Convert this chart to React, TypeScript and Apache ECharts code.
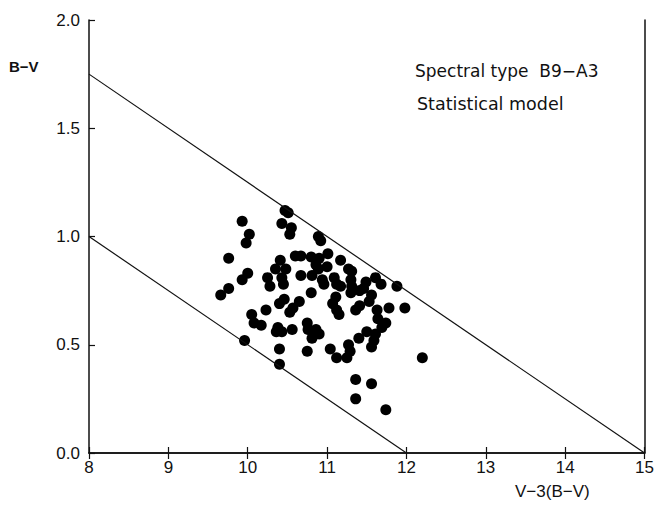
import React, { useEffect, useRef } from "react";
import * as echarts from "echarts";

// Star data: [V-3(B-V), B-V]
const starX: number[] = [
  10.47, 10.51, 9.93, 10.43, 10.55, 10.53, 10.02, 9.98, 10.89, 10.92,
  9.76, 10.6, 10.67, 10.8, 11.01, 11.17, 10.41, 10.35, 10.48, 10.43,
  10.45, 10.9, 10.86, 10.89, 11.0, 10.67, 10.81, 10.94, 10.96, 11.09,
  11.12, 11.17, 11.27, 11.31, 11.3, 11.31, 11.3, 11.49, 11.46, 11.41,
  11.61, 11.68, 11.88, 10.8, 10.0, 9.93, 10.25, 10.28, 9.76, 9.66,
  10.46, 10.4, 10.65, 10.57, 10.53, 10.23, 10.05, 11.56, 11.53, 11.41,
  11.36, 11.11, 11.07, 11.12, 11.15, 11.78, 11.98, 11.63, 11.64, 11.74,
  11.69, 10.75, 10.76, 10.86, 10.9, 10.81, 10.56, 10.38, 10.36, 10.43,
  10.08, 10.17, 9.96, 10.4, 10.75, 10.4, 11.5, 11.4, 11.61, 11.59,
  11.56, 11.27, 11.29, 11.04, 11.12, 11.25, 12.2, 11.36, 11.56, 11.36,
  11.74,
];
const starY: number[] = [
  1.12, 1.11, 1.07, 1.06, 1.04, 1.01, 1.01, 0.97, 1.0, 0.98,
  0.9, 0.91, 0.91, 0.905, 0.92, 0.89, 0.89, 0.85, 0.85, 0.81,
  0.78, 0.9, 0.87, 0.85, 0.86, 0.82, 0.82, 0.8, 0.78, 0.81,
  0.78, 0.77, 0.85, 0.84, 0.8, 0.77, 0.74, 0.79, 0.76, 0.75,
  0.81, 0.78, 0.77, 0.74, 0.83, 0.8, 0.81, 0.77, 0.76, 0.73,
  0.71, 0.69, 0.7, 0.67, 0.65, 0.66, 0.64, 0.73, 0.7, 0.68,
  0.66, 0.72, 0.69, 0.66, 0.64, 0.67, 0.67, 0.66, 0.62, 0.6,
  0.58, 0.6, 0.57, 0.57, 0.55, 0.53, 0.57, 0.58, 0.56, 0.56,
  0.6, 0.59, 0.52, 0.48, 0.47, 0.41, 0.56, 0.53, 0.55, 0.52,
  0.49, 0.5, 0.47, 0.48, 0.44, 0.44, 0.44, 0.34, 0.32, 0.25,
  0.2,
];

// Boundary lines (endpoints)
const upperLine: number[][] = [
  [8, 1.75],
  [15, 0],
];
const lowerLine: number[][] = [
  [8, 1.0],
  [12, 0],
];

const xTicks: number[] = [8, 9, 10, 11, 12, 13, 14, 15];
const yTicks: string[] = ["0.0", "0.5", "1.0", "1.5", "2.0"];

const xTitle = "V\u22123(B\u2212V)";
const yTitle = "B\u2212V";
const note1 = "Spectral type  B9\u2212A3";
const note2 = "Statistical model";

export default function App() {
  const ref = useRef<HTMLDivElement>(null);

  useEffect(() => {
    if (!ref.current) return;
    const chart = echarts.init(ref.current, undefined, { renderer: "svg" });
    const points = starX.map((x, i) => [x, starY[i]]);
    const font = "Liberation Sans, Arial, sans-serif";
    const axisCommon = {
      axisLine: { show: true, lineStyle: { color: "#111", width: 1.5 } },
      axisTick: { show: true, inside: true, length: 6, lineStyle: { color: "#111", width: 1.2 } },
      splitLine: { show: false },
    };
    chart.setOption({
      animation: false,
      backgroundColor: "#ffffff",
      grid: { left: 89, right: 8, top: 20, bottom: 55, containLabel: false },
      xAxis: [
        {
          type: "value",
          min: xTicks[0],
          max: xTicks[xTicks.length - 1],
          interval: 1,
          position: "bottom",
          ...axisCommon,
          axisLabel: { color: "#111", fontSize: 17, fontFamily: font, margin: 6 },
        },
        {
          type: "value",
          min: xTicks[0],
          max: xTicks[xTicks.length - 1],
          interval: 1,
          position: "top",
          ...axisCommon,
          axisLabel: { show: false },
        },
      ],
      yAxis: [
        {
          type: "value",
          min: 0,
          max: 2,
          interval: 0.5,
          position: "left",
          ...axisCommon,
          axisLabel: {
            color: "#111",
            fontSize: 17,
            fontFamily: font,
            margin: 9,
            formatter: (v: number) => yTicks[Math.round(v / 0.5)] ?? "",
          },
        },
        {
          type: "value",
          min: 0,
          max: 2,
          interval: 0.5,
          position: "right",
          axisLine: { show: true, lineStyle: { color: "#111", width: 1.5 } },
          axisTick: { show: false },
          axisLabel: { show: false },
          splitLine: { show: false },
        },
      ],
      series: [
        {
          type: "line",
          data: upperLine,
          symbol: "none",
          lineStyle: { color: "#111", width: 1.2 },
          silent: true,
        },
        {
          type: "line",
          data: lowerLine,
          symbol: "none",
          lineStyle: { color: "#111", width: 1.2 },
          silent: true,
        },
        {
          type: "scatter",
          data: points,
          symbol: "circle",
          symbolSize: 11,
          itemStyle: { color: "#000", opacity: 1 },
        },
      ],
      graphic: [
        {
          type: "text",
          left: 9,
          top: 59,
          style: { text: yTitle, fontSize: 15, fontFamily: font, fontWeight: "bold", fill: "#111" },
        },
        {
          type: "text",
          left: 515,
          top: 483,
          style: { text: xTitle, fontSize: 17, fontFamily: font, fill: "#111" },
        },
        {
          type: "text",
          left: 415,
          top: 62,
          style: { text: note1, fontSize: 17, fontFamily: "DejaVu Sans, sans-serif", fill: "#111" },
        },
        {
          type: "text",
          left: 417,
          top: 95,
          style: { text: note2, fontSize: 17.5, fontFamily: "DejaVu Sans, sans-serif", fill: "#111" },
        },
      ],
    });
    return () => chart.dispose();
  }, []);

  return (
    <div
      ref={ref}
      style={{ position: "fixed", left: 0, top: 0, width: 657, height: 508, background: "#fff" }}
    />
  );
}
